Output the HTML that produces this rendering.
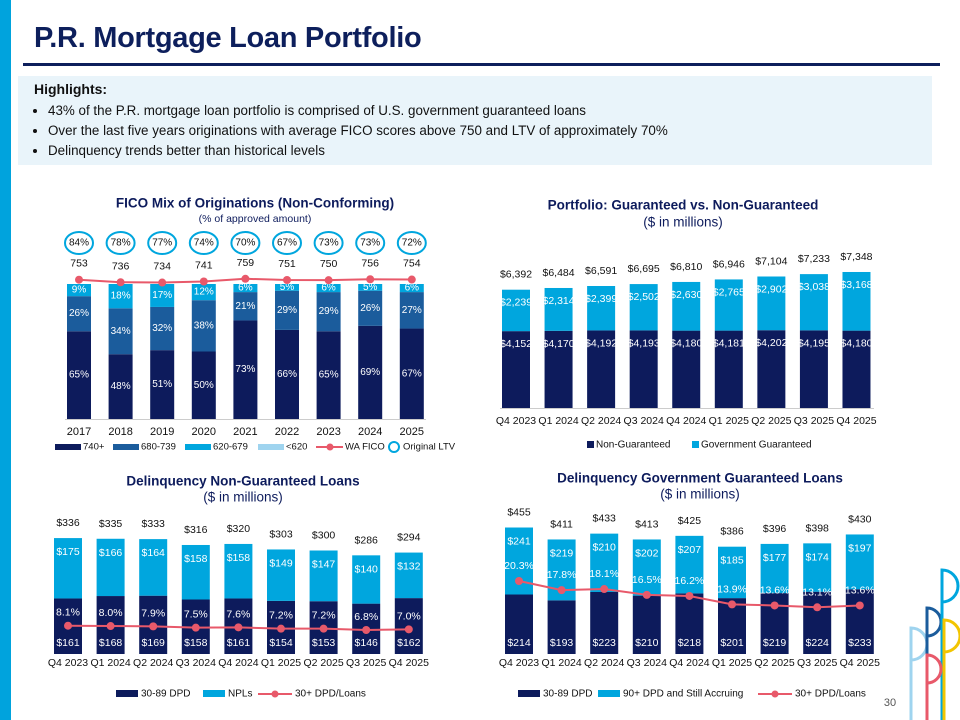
<!DOCTYPE html>
<html><head><meta charset="utf-8"><style>
body{margin:0;width:960px;height:720px;overflow:hidden;background:#fff;font-family:"Liberation Sans",sans-serif;position:relative}
.strip{position:absolute;left:0;top:0;width:11px;height:720px;background:#00a3dd}
h1{position:absolute;left:34px;top:22px;margin:0;font-size:29px;color:#0d1f5c;font-weight:bold;letter-spacing:-0.3px}
.rule{position:absolute;left:23px;top:63px;width:917px;height:3px;background:#0d1f5c}
.hl{position:absolute;left:18px;top:76px;width:914px;height:89px;background:#e9f4fa}
.hl b{position:absolute;left:16px;top:5px;font-size:14px;color:#111}
.hl ul{position:absolute;left:10px;top:25px;margin:0;padding:0 0 0 20px;font-size:13.4px;color:#111;line-height:20px}
svg{position:absolute;left:0;top:0}
</style></head><body>
<div class="strip"></div>
<h1>P.R. Mortgage Loan Portfolio</h1>
<div class="rule"></div>
<div class="hl">
<b>Highlights:</b>
<ul>
<li>43% of the P.R. mortgage loan portfolio is comprised of U.S. government guaranteed loans</li>
<li>Over the last five years originations with average FICO scores above 750 and LTV of approximately 70%</li>
<li>Delinquency trends better than historical levels</li>
</ul></div>
<svg id="s" width="960" height="720"></svg>
<script>
// FICO chart data
const years=["2017","2018","2019","2020","2021","2022","2023","2024","2025"];
const fico740=[65,48,51,50,73,66,65,69,67];
const fico680=[26,34,32,38,21,29,29,26,27];
const fico620=[9,18,17,12,6,5,6,5,6];
const ficoLow=[0,0,0,0,0,0,0,0,0];
const waFico=[753,736,734,741,759,751,750,756,754];
const origLtv=[84,78,77,74,70,67,73,73,72];
// Portfolio data
const quarters=["Q4 2023","Q1 2024","Q2 2024","Q3 2024","Q4 2024","Q1 2025","Q2 2025","Q3 2025","Q4 2025"];
const nonGuar=[4152,4170,4192,4193,4180,4181,4202,4195,4180];
const govGuar=[2239,2314,2399,2502,2630,2765,2902,3038,3168];
const portTotals=[6392,6484,6591,6695,6810,6946,7104,7233,7348];
// Delinquency non-guaranteed
const ng3089=[161,168,169,158,161,154,153,146,162];
const ngNpl=[175,166,164,158,158,149,147,140,132];
const ngTotals=[336,335,333,316,320,303,300,286,294];
const ngRatio=[8.1,8.0,7.9,7.5,7.6,7.2,7.2,6.8,7.0];
// Delinquency government guaranteed
const g3089=[214,193,223,210,218,201,219,224,233];
const g90=[241,219,210,202,207,185,177,174,197];
const gTotals=[455,411,433,413,425,386,396,398,430];
const gRatio=[20.3,17.8,18.1,16.5,16.2,13.9,13.6,13.1,13.6];

const NAVY="#0d1b5c",MID="#1b5c9c",LIGHT="#00a6de",PALE="#9fd4ef",PINK="#e8596a";
const S=document.getElementById('s');
const NS="http://www.w3.org/2000/svg";
function mk(tag,a,name,inter){const el=document.createElementNS(NS,tag);for(const k in a)el.setAttribute(k,a[k]);


S.appendChild(el);return el;}
function tx(x,y,t,name,o){o=o||{};const el=mk('text',{x:x,y:y,'text-anchor':o.anchor||'middle','dominant-baseline':'central','font-size':o.size||11,fill:o.fill||'#111','font-weight':o.bold?'bold':'normal','font-family':'Liberation Sans, sans-serif'},name);el.textContent=t;return el;}
function rect(x,y,w,h,f,name){return mk('rect',{x:x,y:y,width:w,height:Math.max(0,h),fill:f},name);}
const fmt=v=>'$'+v.toLocaleString('en-US');

// ---- FICO chart
tx(255,203,"FICO Mix of Originations (Non-Conforming)","fico-title",{size:13.5,bold:1,fill:NAVY});
tx(255,219,"(% of approved amount)","fico-subtitle",{size:10.5,fill:NAVY});
const fx=i=>79+i*41.6, fy=p=>419-p*1.35, fl=f=>279.7-(f-753)*0.15;
years.forEach((yr,i)=>{
 const x=fx(i)-12;let base=0;
 [[fico740,NAVY,'740'],[fico680,MID,'680'],[fico620,LIGHT,'620'],[ficoLow,PALE,'low']].forEach(([arr,c,k])=>{
  const v=arr[i];if(v<=0)return;
  rect(x,fy(base+v),24,fy(base)-fy(base+v),c,'fico-bar-'+k+'-'+yr);
  tx(fx(i),(fy(base)+fy(base+v))/2,v+'%','fico-label-'+k+'-'+yr,{size:10,fill:'#fff'});
  base+=v;});
 tx(fx(i),432,yr,'fico-x-label-'+yr,{size:11});
 mk('ellipse',{cx:fx(i),cy:243,rx:14,ry:11,fill:'#fff',stroke:LIGHT,'stroke-width':2},'ltv-circle-'+yr);
 tx(fx(i),243,origLtv[i]+'%','ltv-label-'+yr,{size:10});
 tx(fx(i),fl(waFico[i])-16,waFico[i],'wa-fico-label-'+yr,{size:10.5});
});
mk('line',{x1:65,y1:419.5,x2:426,y2:419.5,stroke:'#ccc'},'fico-x-axis');
mk('polyline',{points:waFico.map((f,i)=>fx(i)+','+fl(f)).join(' '),fill:'none',stroke:PINK,'stroke-width':2},'wa-fico-line');
waFico.forEach((f,i)=>mk('circle',{cx:fx(i),cy:fl(f),r:4,fill:PINK},'wa-fico-dot-'+years[i]));
// legend
[[55,NAVY,'740+'],[113,MID,'680-739'],[185,LIGHT,'620-679'],[258,PALE,'<620']].forEach(([x,c,t])=>{
 rect(x,444,26,6,c,'fico-legend-swatch-'+t);tx(x+28,447,t,'fico-legend-'+t,{size:9.5,anchor:'start'});});
mk('line',{x1:316,y1:447,x2:343,y2:447,stroke:PINK,'stroke-width':2},'fico-legend-line');
mk('circle',{cx:330,cy:447,r:3.5,fill:PINK},'fico-legend-dot');
tx(345,447,'WA FICO','fico-legend-wafico',{size:9.5,anchor:'start'});
mk('circle',{cx:394,cy:447,r:5,fill:'none',stroke:LIGHT,'stroke-width':2},'fico-legend-ltv-circle');
tx(403,447,'Original LTV','fico-legend-ltv',{size:9.5,anchor:'start'});

// ---- Portfolio chart
tx(683,205,"Portfolio: Guaranteed vs. Non-Guaranteed","portfolio-title",{size:13.5,bold:1,fill:NAVY});
tx(683,222,"($ in millions)","portfolio-subtitle",{size:13.5,fill:NAVY});
const px=i=>516+i*42.56, py=v=>408-v*0.01851;
quarters.forEach((q,i)=>{
 const x=px(i)-14;
 rect(x,py(nonGuar[i]),28,py(0)-py(nonGuar[i]),NAVY,'portfolio-bar-nonguaranteed-'+q);
 rect(x,py(nonGuar[i]+govGuar[i]),28,py(nonGuar[i])-py(nonGuar[i]+govGuar[i]),LIGHT,'portfolio-bar-guaranteed-'+q);
 tx(px(i),py(nonGuar[i])+13,fmt(nonGuar[i]),'portfolio-label-nonguaranteed-'+q,{size:10.5,fill:'#fff'});
 tx(px(i),py(nonGuar[i]+govGuar[i])+13,fmt(govGuar[i]),'portfolio-label-guaranteed-'+q,{size:10.5,fill:'#fff'});
 tx(px(i),py(nonGuar[i]+govGuar[i])-15,fmt(portTotals[i]),'portfolio-total-'+q,{size:10.5});
 tx(px(i),421,q,'portfolio-x-label-'+q,{size:10.5});
});
mk('line',{x1:500,y1:408.5,x2:874,y2:408.5,stroke:'#ccc'},'portfolio-x-axis');
rect(587,441,7,7,NAVY,'portfolio-legend-swatch-nonguaranteed');tx(596,445,'Non-Guaranteed','portfolio-legend-nonguaranteed',{size:10,anchor:'start'});
rect(692,441,7,7,LIGHT,'portfolio-legend-swatch-guaranteed');tx(701,445,'Government Guaranteed','portfolio-legend-guaranteed',{size:10,anchor:'start'});

// ---- Delinquency charts
function delq(o){
 tx(o.cx,o.ty,o.title,o.key+'-title',{size:13.5,bold:1,fill:NAVY});
 tx(o.cx,o.ty+16,"($ in millions)",o.key+'-subtitle',{size:13.5,fill:NAVY});
 const X=i=>o.x0+i*42.6, Y=v=>654-v*o.sc, R=v=>o.r0+(o.rv0-v)*o.rs;
 quarters.forEach((q,i)=>{
  const x=X(i)-14,a=o.a[i],b=o.b[i];
  rect(x,Y(a),28,Y(0)-Y(a),NAVY,o.key+'-bar-3089-'+q);
  rect(x,Y(a+b),28,Y(a)-Y(a+b),LIGHT,o.key+'-bar-second-'+q);
  tx(X(i),643,'$'+a,o.key+'-label-3089-'+q,{size:10.5,fill:'#fff'});
  tx(X(i),Y(a+b)+14,'$'+b,o.key+'-label-second-'+q,{size:10.5,fill:'#fff'});
  tx(X(i),Y(a+b)-15,'$'+o.t[i],o.key+'-total-'+q,{size:10.5});
  tx(X(i),R(o.r[i])-o.lo,o.r[i].toFixed(1)+'%',o.key+'-ratio-label-'+q,{size:10.5,fill:'#fff'});
  tx(X(i),663,q,o.key+'-x-label-'+q,{size:10.5});
 });
 mk('polyline',{points:o.r.map((v,i)=>X(i)+','+R(v)).join(' '),fill:'none',stroke:PINK,'stroke-width':2},o.key+'-ratio-line');
 o.r.forEach((v,i)=>mk('circle',{cx:X(i),cy:R(v),r:4,fill:PINK},o.key+'-ratio-dot-'+quarters[i]));
 o.leg.forEach(([x,t,c],j)=>{
  if(c){rect(x,690,22,7,c,o.key+'-legend-swatch-'+j);tx(x+25,694,t,o.key+'-legend-'+j,{size:10,anchor:'start'});}
  else{mk('line',{x1:x,y1:694,x2:x+34,y2:694,stroke:PINK,'stroke-width':2},o.key+'-legend-line');
   mk('circle',{cx:x+17,cy:694,r:3.5,fill:PINK},o.key+'-legend-dot');
   tx(x+37,694,t,o.key+'-legend-'+j,{size:10,anchor:'start'});}
 });
}
delq({key:'delinq-nonguaranteed',title:'Delinquency Non-Guaranteed Loans',cx:243,ty:481,x0:68,sc:0.345,a:ng3089,b:ngNpl,t:ngTotals,r:ngRatio,r0:625.7,rv0:8.1,rs:3.3,lo:13,
 leg:[[116,'30-89 DPD',NAVY],[203,'NPLs',LIGHT],[258,'30+ DPD/Loans',null]]});
delq({key:'delinq-guaranteed',title:'Delinquency Government Guaranteed Loans',cx:700,ty:478,x0:519,sc:0.278,a:g3089,b:g90,t:gTotals,r:gRatio,r0:581,rv0:20.3,rs:3.65,lo:15,
 leg:[[518,'30-89 DPD',NAVY],[598,'90+ DPD and Still Accruing',LIGHT],[758,'30+ DPD/Loans',null]]});

tx(890,703,'30','page-number',{size:11,fill:'#555'});
// logo
const lg=[[911,628,720,'#9fd4ef',16],[927,608,720,'#1b5c9c',14],[942,570,720,'#00a6de',16],[944,620,720,'#f2c500',16]];
lg.forEach(([x,y1,y2,c,r],j)=>{mk('path',{d:`M${x} ${y2} V${y1} a${r} ${r} 0 0 1 0 ${2*r}`,fill:'none',stroke:c,'stroke-width':3},'logo-stroke-'+j);});
mk('path',{d:'M927 720 V655 a14 14 0 0 1 0 28',fill:'none',stroke:PINK,'stroke-width':3},'logo-stroke-pink');
</script>
</body></html>
